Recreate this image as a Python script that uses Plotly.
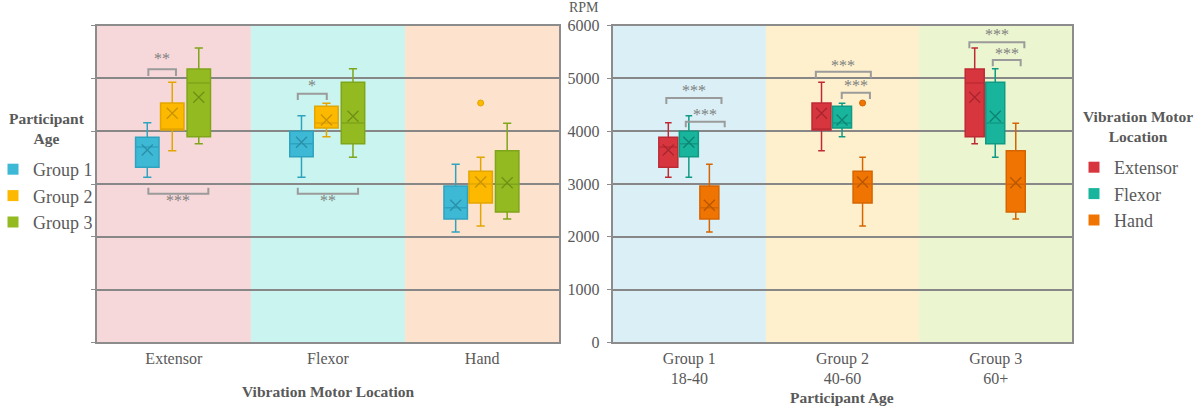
import plotly.graph_objects as go

# ---------------- data ----------------
locations = ["Extensor", "Flexor", "Hand"]
groups = ["Group 1", "Group 2", "Group 3"]
age_ranges = ["18-40", "40-60", "60+"]

# rows: location (Extensor, Flexor, Hand); columns: group (1, 2, 3); RPM
upper_fence = [[4161, 4927, 5577], [4294, 4529, 5185], [3373, 3506, 4150]]
q3_vals = [[3885, 4535, 5179], [3998, 4472, 4927], [2962, 3240, 3631]]
median_vals = [[3701, 4023, 4914], [3764, 4156, 4156], [2551, 3000, 2994]]
mean_vals = [[3644, 4340, 4643], [3790, 4213, 4283], [2596, 3038, 3024]]
q1_vals = [[3316, 4023, 3896], [3517, 4061, 3764], [2337, 2640, 2469]]
lower_fence = [[3127, 3631, 3764], [3127, 3896, 3506], [2090, 2204, 2337]]

outlier_location = ["Hand"]
outlier_group = ["Group 2"]
outlier_value = [4535]

# significance brackets: (category index, x start offset, x end offset, bar y, leg y, text y, label)
left_brackets = [
    (0, -0.165, 0.014, 5173, 5046, 5382, "**"),
    (0, -0.165, 0.224, 2816, 2930, 2678, "***"),
    (1, -0.196, -0.008, 4711, 4592, 4876, "*"),
    (1, -0.196, 0.195, 2816, 2930, 2678, "**"),
]
right_brackets = [
    (0, -0.150, 0.210, 4630, 4516, 4781, "***"),
    (0, -0.023, 0.231, 4180, 4074, 4321, "***"),
    (1, -0.174, 0.185, 5128, 5003, 5242, "***"),
    (1, -0.005, 0.179, 4730, 4611, 4876, "***"),
    (2, -0.172, 0.187, 5685, 5571, 5829, "***"),
    (2, -0.019, 0.163, 5350, 5230, 5477, "***"),
]

# ---------------- styles ----------------
W, H = 1200, 411
FONT = "Liberation Serif, Times New Roman, serif"
TXT = "#595959"
group_fill = ["#3DB8D5", "#FCB900", "#93BA21"]
group_line = ["#2EA3C0", "#E3A600", "#7FA51A"]
group_dark = ["#2A8FA8", "#C99300", "#6F8F16"]
loc_fill = ["#D8363F", "#18B49C", "#EF7401"]
loc_line = ["#BE2A33", "#109A84", "#D56500"]
loc_dark = ["#A8252D", "#0E8371", "#B85700"]
left_bg = ["#F7D8DA", "#CAF4EF", "#FDE2CD"]
right_bg = ["#DAEFF6", "#FEF0CD", "#EBF5D0"]
left_off = [-0.172, -0.010, 0.162]
right_off = [-0.137, -0.003, 0.131]
left_w = 0.152
right_w = 0.124

fig = go.Figure()

def add_box(x, li, gi, fill, line, dark, xa, ya, w):
    fig.add_trace(go.Box(
        x=[x], q1=[q1_vals[li][gi]], median=[median_vals[li][gi]], q3=[q3_vals[li][gi]],
        lowerfence=[lower_fence[li][gi]], upperfence=[upper_fence[li][gi]],
        width=w, whiskerwidth=0.35, fillcolor=fill,
        line=dict(color=line, width=1.5), boxpoints=False,
        showlegend=False, hoverinfo="skip", xaxis=xa, yaxis=ya))
    fig.add_trace(go.Scatter(
        x=[x], y=[mean_vals[li][gi]], mode="markers",
        marker=dict(symbol="x-thin", size=11, line=dict(color=dark, width=1.3)),
        showlegend=False, hoverinfo="skip", xaxis=xa, yaxis=ya))

# left panel: x = location, colour = group
for li in range(3):
    for gi in range(3):
        add_box(li + left_off[gi], li, gi, group_fill[gi], group_line[gi], group_dark[gi], "x", "y", left_w)
# right panel: x = group, colour = location
for gi in range(3):
    for li in range(3):
        add_box(gi + right_off[li], li, gi, loc_fill[li], loc_line[li], loc_dark[li], "x2", "y2", right_w)

# outliers
for loc, grp, val in zip(outlier_location, outlier_group, outlier_value):
    li, gi = locations.index(loc), groups.index(grp)
    fig.add_trace(go.Scatter(x=[li + left_off[gi]], y=[val], mode="markers",
                             marker=dict(size=6, color=group_fill[gi], line=dict(color=group_line[gi], width=1)),
                             showlegend=False, hoverinfo="skip", xaxis="x", yaxis="y"))
    fig.add_trace(go.Scatter(x=[gi + right_off[li]], y=[val], mode="markers",
                             marker=dict(size=6, color=loc_fill[li], line=dict(color=loc_line[li], width=1)),
                             showlegend=False, hoverinfo="skip", xaxis="x2", yaxis="y2"))

# legend entries
for gi, g in enumerate(groups):
    fig.add_trace(go.Scatter(x=[None], y=[None], mode="markers", name=g, legend="legend",
                             marker=dict(symbol="square", size=11, color=group_fill[gi]),
                             xaxis="x", yaxis="y"))
for li, l in enumerate(locations):
    fig.add_trace(go.Scatter(x=[None], y=[None], mode="markers", name=l, legend="legend2",
                             marker=dict(symbol="square", size=11, color=loc_fill[li]),
                             xaxis="x2", yaxis="y2"))

shapes = []
for i in range(3):
    shapes.append(dict(type="rect", xref="x", yref="y domain", x0=i - 0.5, x1=i + 0.5, y0=0, y1=1,
                       fillcolor=left_bg[i], line=dict(width=0), layer="below"))
    shapes.append(dict(type="rect", xref="x2", yref="y2 domain", x0=i - 0.5, x1=i + 0.5, y0=0, y1=1,
                       fillcolor=right_bg[i], line=dict(width=0), layer="below"))

annotations = []
def add_brackets(lst, xr, yr):
    for cat, a, b, ybar, yleg, ytxt, lab in lst:
        x0, x1 = cat + a, cat + b
        shapes.append(dict(type="path", xref=xr, yref=yr,
                           path=f"M {x0},{yleg} L {x0},{ybar} L {x1},{ybar} L {x1},{yleg}",
                           line=dict(color="#9B9B9B", width=2)))
        annotations.append(dict(xref=xr, yref=yr, x=(x0 + x1) / 2, y=ytxt, text=lab, showarrow=False,
                                xanchor="center", yanchor="middle",
                                font=dict(family=FONT, size=16, color="#7F7F7F")))
add_brackets(left_brackets, "x", "y")
add_brackets(right_brackets, "x2", "y2")

def pa(x, y, text, size, **kw):
    return dict(xref="paper", yref="paper", x=x / W, y=1 - y / H, text=text, showarrow=False,
                xanchor="center", yanchor="middle",
                font=dict(family=FONT, size=size, color=TXT), **kw)

annotations += [
    pa(584, 8, "RPM", 14),
    pa(328, 391, "<b>Vibration Motor Location</b>", 15.5),
    pa(842.5, 397, "<b>Participant Age</b>", 15.5),
    pa(47, 129, "<b>Participant<br>Age</b>", 15.5, align="center"),
    pa(1138, 127, "<b>Vibration Motor<br>Location</b>", 15.5, align="center"),
]

axis_common = dict(showline=True, mirror=True, linecolor="#8C8C8C", linewidth=2, zeroline=False,
                   automargin=False, tickfont=dict(family=FONT, size=16, color=TXT))
ycommon = dict(range=[0, 6000], dtick=1000, showgrid=True, gridcolor="#878787", gridwidth=1.5,
               ticks="outside", ticklen=4, tickcolor="#8C8C8C", domain=[1 - 342.3 / H, 1 - 25.7 / H])

fig.update_layout(
    width=W, height=H, margin=dict(l=0, r=0, t=0, b=0, autoexpand=False),
    paper_bgcolor="white", plot_bgcolor="white", boxmode="overlay",
    font=dict(family=FONT, color=TXT),
    xaxis=dict(domain=[96.7 / W, 559.3 / W], range=[-0.5, 2.5], tickvals=[0, 1, 2], ticktext=locations,
               showgrid=False, ticks="", anchor="y", **axis_common),
    yaxis=dict(anchor="x", showticklabels=False, **ycommon, **axis_common),
    xaxis2=dict(domain=[612.7 / W, 1072.3 / W], range=[-0.5, 2.5], tickvals=[0, 1, 2],
                ticktext=[f"{g}<br>{r}" for g, r in zip(groups, age_ranges)],
                showgrid=False, ticks="", anchor="y2", **axis_common),
    yaxis2=dict(anchor="x2", showticklabels=True, ticklabelstandoff=4, **ycommon, **axis_common),
    legend=dict(x=-7 / W, y=1 - 151 / H, xanchor="left", yanchor="top",
                font=dict(family=FONT, size=18, color=TXT), bgcolor="rgba(0,0,0,0)"),
    legend2=dict(x=1074 / W, y=1 - 149 / H, xanchor="left", yanchor="top",
                 font=dict(family=FONT, size=18, color=TXT), bgcolor="rgba(0,0,0,0)"),
    shapes=shapes, annotations=annotations,
)

fig.write_html("out.html", config={"displayModeBar": False},
               post_script="document.body.style.margin='0';")
